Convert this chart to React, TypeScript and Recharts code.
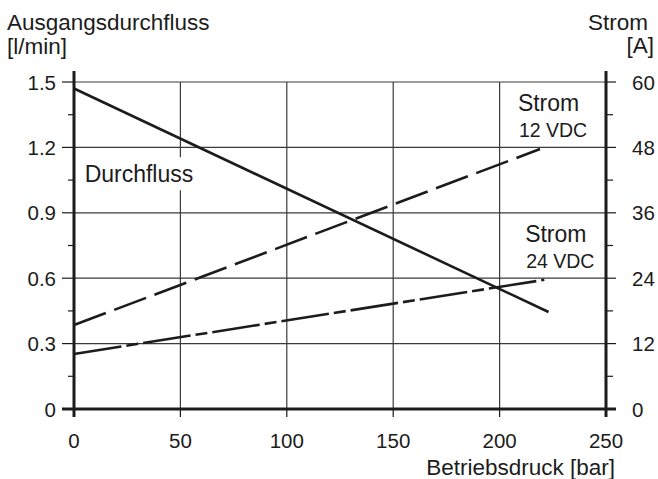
import React from 'react';
import { ComposedChart, Line, XAxis, YAxis, ReferenceLine, ReferenceDot } from 'recharts';

// Axis ticks
const pressureTicks = [0, 50, 100, 150, 200, 250];
const pressureGrid = [50, 100, 150, 200];
const flowTicks = [0, 0.15, 0.3, 0.45, 0.6, 0.75, 0.9, 1.05, 1.2, 1.35, 1.5];
const flowGrid = [0.3, 0.6, 0.9, 1.2, 1.5];
const currentTicks = [0, 6, 12, 18, 24, 30, 36, 42, 48, 54, 60];

// Series (pressure in bar, flow in l/min, current in A)
const flowPressure = [0, 223];
const flowValues = [1.47, 0.445];
const strom12Pressure = [0, 219];
const strom12Values = [15.4, 47.7];
const strom24Pressure = [0, 221];
const strom24Values = [10.1, 23.7];

const flowData = flowPressure.map((p, i) => ({ p, v: flowValues[i] }));
const strom12Data = strom12Pressure.map((p, i) => ({ p, v: strom12Values[i] }));
const strom24Data = strom24Pressure.map((p, i) => ({ p, v: strom24Values[i] }));

const FONT = '"Liberation Sans", Arial, Helvetica, sans-serif';
const INK = '#1c1c1c';
const GRID = '#3a3a3a';

const isMajorFlow = (v: number) => Math.round(v * 100) % 30 === 0;
const isMajorCurrent = (v: number) => Math.round(v) % 12 === 0;

const LeftTick = (props: any) => {
  const { x, y, payload } = props;
  const v = payload.value;
  const major = isMajorFlow(v);
  return (
    <g>
      <line x1={x - (major ? 12 : 6)} x2={x} y1={y} y2={y} stroke={INK} strokeWidth={v === 0 ? 3 : 1.2} />
      {v === 1.5 && <line x1={x} x2={x} y1={y - 11} y2={y} stroke={INK} strokeWidth={3} />}
      {major && (
        <text x={x - 18} y={y + 7.5} textAnchor="end" fontSize={20.5} fontFamily={FONT} fill={INK}>
          {String(v)}
        </text>
      )}
    </g>
  );
};

const RightTick = (props: any) => {
  const { x, y, payload } = props;
  const v = payload.value;
  const major = isMajorCurrent(v);
  return (
    <g>
      <line x1={x} x2={x + (major ? 10 : 7)} y1={y} y2={y} stroke={INK} strokeWidth={v === 0 ? 3 : 1.2} />
      {v === 60 && <line x1={x} x2={x} y1={y - 11} y2={y} stroke={INK} strokeWidth={3} />}
      {major && (
        <text x={x + 26} y={y + 7.5} textAnchor="start" fontSize={20.5} fontFamily={FONT} fill={INK}>
          {String(v)}
        </text>
      )}
    </g>
  );
};

const BottomTick = (props: any) => {
  const { x, y, payload } = props;
  const v = payload.value;
  const edge = v === 0 || v === 250;
  return (
    <g>
      <line x1={x} x2={x} y1={y} y2={y + 8} stroke={INK} strokeWidth={edge ? 3 : 1.2} />
      <text x={x} y={y + 39} textAnchor="middle" fontSize={20.5} fontFamily={FONT} fill={INK}>
        {String(v)}
      </text>
    </g>
  );
};

const FlowLabel = (props: any) => {
  const { cx, cy } = props;
  return (
    <g>
      <rect x={cx - 3} y={cy - 25} width={116} height={33} fill="#fff" />
      <text x={cx} y={cy} fontSize={23} fontFamily={FONT} fill={INK}>Durchfluss</text>
    </g>
  );
};

const CurrentLabel = (text2: string) => (props: any) => {
  const { cx, cy } = props;
  return (
    <g>
      <text x={cx} y={cy} fontSize={23} fontFamily={FONT} fill={INK}>Strom</text>
      <text x={cx + 1} y={cy + 26} fontSize={19.5} fontFamily={FONT} fill={INK}>{text2}</text>
    </g>
  );
};

export default function App() {
  return (
    <div style={{ position: 'absolute', left: 0, top: 0, width: 658, height: 479, background: '#fff' }}>
      <ComposedChart width={658} height={479} margin={{ top: 82, right: 0, bottom: 0, left: 0 }}>
        <XAxis
          type="number"
          dataKey="p"
          domain={[0, 250]}
          ticks={pressureTicks}
          interval={0}
          height={70}
          tickSize={0}
          tickMargin={0}
          tickLine={false}
          axisLine={{ stroke: INK, strokeWidth: 3 }}
          tick={BottomTick}
          allowDuplicatedCategory={false}
        />
        <YAxis
          yAxisId="flow"
          orientation="left"
          type="number"
          domain={[0, 1.5]}
          ticks={flowTicks}
          interval={0}
          width={74}
          tickSize={0}
          tickMargin={0}
          tickLine={false}
          axisLine={{ stroke: INK, strokeWidth: 3 }}
          tick={LeftTick}
        />
        <YAxis
          yAxisId="current"
          orientation="right"
          type="number"
          domain={[0, 60]}
          ticks={currentTicks}
          interval={0}
          width={52}
          tickSize={0}
          tickMargin={0}
          tickLine={false}
          axisLine={{ stroke: INK, strokeWidth: 3 }}
          tick={RightTick}
        />
        {flowGrid.map((v) => (
          <ReferenceLine key={'h' + v} yAxisId="flow" y={v} stroke={GRID} strokeWidth={1.2} />
        ))}
        {pressureGrid.map((v) => (
          <ReferenceLine key={'v' + v} yAxisId="flow" x={v} stroke={GRID} strokeWidth={1.2} />
        ))}
        <ReferenceDot yAxisId="flow" x={5} y={1.04} r={0} shape={FlowLabel} />
        <ReferenceDot yAxisId="current" x={208.6} y={54.7} r={0} shape={CurrentLabel('12 VDC')} />
        <ReferenceDot yAxisId="current" x={212} y={30.6} r={0} shape={CurrentLabel('24 VDC')} />
        <Line
          yAxisId="flow"
          data={flowData}
          dataKey="v"
          type="linear"
          stroke={INK}
          strokeWidth={2.6}
          dot={false}
          isAnimationActive={false}
        />
        <Line
          yAxisId="current"
          data={strom12Data}
          dataKey="v"
          type="linear"
          stroke={INK}
          strokeWidth={2.6}
          strokeDasharray="34 9"
          dot={false}
          isAnimationActive={false}
        />
        <Line
          yAxisId="current"
          data={strom24Data}
          dataKey="v"
          type="linear"
          stroke={INK}
          strokeWidth={2.6}
          strokeDasharray="48 5 12 5"
          dot={false}
          isAnimationActive={false}
        />
      </ComposedChart>
      <svg width={658} height={479} style={{ position: 'absolute', left: 0, top: 0, pointerEvents: 'none' }}>
        <g fontFamily={FONT} fontSize={22.5} fill={INK}>
          <text x={7} y={30}>Ausgangsdurchfluss</text>
          <text x={7} y={54}>[l/min]</text>
          <text x={648} y={30} textAnchor="end">Strom</text>
          <text x={654} y={53} textAnchor="end">[A]</text>
          <text x={615} y={475} textAnchor="end">Betriebsdruck [bar]</text>
        </g>
      </svg>
    </div>
  );
}
